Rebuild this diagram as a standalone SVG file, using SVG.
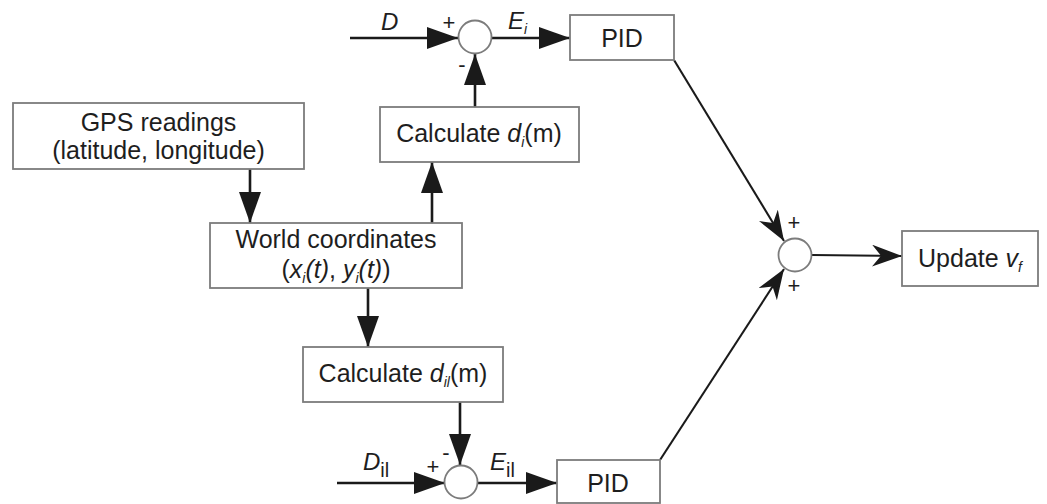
<svg xmlns="http://www.w3.org/2000/svg" width="1047" height="504" viewBox="0 0 1047 504">
<style>
text{font-family:"Liberation Sans",Arial,sans-serif;fill:#1e1e1e}
.box{fill:#fff;stroke:#7c7c7c;stroke-width:1.8}
.sum{fill:#fff;stroke:#7c7c7c;stroke-width:1.8}
.t{font-size:25px;text-anchor:middle}
.lbl{font-size:24px}
.pm{font-size:22px;text-anchor:middle}
.i{font-style:italic}
.sub{font-size:14px}
.ln{stroke:#1a1a1a;stroke-width:2.6;fill:none}
.ln2{stroke:#1a1a1a;stroke-width:2.1;fill:none}
</style>
<defs>
<marker id="tri" markerUnits="userSpaceOnUse" markerWidth="32" markerHeight="23" refX="31" refY="11" orient="auto">
<path d="M0,0 L31,11 L0,22 z" fill="#1a1a1a"/>
</marker>
<marker id="barb" markerUnits="userSpaceOnUse" markerWidth="32" markerHeight="24" refX="30" refY="11" orient="auto">
<path d="M0,0 L30,11 L0,22 L9,11 z" fill="#1a1a1a"/>
</marker>
</defs>
<rect width="1047" height="504" fill="#fff"/>

<g id="connectors">
<line class="ln" x1="350" y1="38" x2="458" y2="38" marker-end="url(#tri)"/>
<line class="ln" x1="492" y1="38" x2="570" y2="38" marker-end="url(#tri)"/>
<line class="ln" x1="475" y1="107" x2="475" y2="54" marker-end="url(#tri)"/>
<line class="ln" x1="250" y1="169" x2="250" y2="223" marker-end="url(#tri)"/>
<line class="ln" x1="432" y1="223" x2="432" y2="162" marker-end="url(#tri)"/>
<line class="ln" x1="368" y1="288" x2="368" y2="347" marker-end="url(#tri)"/>
<line class="ln" x1="460" y1="402" x2="460" y2="465" marker-end="url(#tri)"/>
<line class="ln" x1="337" y1="483" x2="445" y2="483" marker-end="url(#tri)"/>
<line class="ln" x1="478" y1="483" x2="557" y2="483" marker-end="url(#tri)"/>
<line class="ln2" x1="674" y1="60" x2="784" y2="241" marker-end="url(#barb)"/>
<line class="ln2" x1="660" y1="460" x2="784" y2="269" marker-end="url(#barb)"/>
<line class="ln2" x1="812" y1="255" x2="902" y2="256" marker-end="url(#barb)"/>
</g>

<g id="gps">
<rect class="box" x="13" y="103" width="291" height="66"/>
<text class="t" x="158.5" y="131">GPS readings</text>
<text class="t" x="158.5" y="159">(latitude, longitude)</text>
</g>

<g id="world">
<rect class="box" x="210" y="223" width="252" height="65"/>
<text class="t" x="336" y="248">World coordinates</text>
<text class="t" x="336" y="278">(<tspan class="i">x</tspan><tspan class="i sub" dy="5">i</tspan><tspan class="i" dy="-5">(t)</tspan>, <tspan class="i">y</tspan><tspan class="i sub" dy="5">i</tspan><tspan class="i" dy="-5">(t)</tspan>)</text>
</g>

<g id="calc-di">
<rect class="box" x="380" y="107" width="199" height="55"/>
<text class="t" x="479" y="142">Calculate <tspan class="i">d</tspan><tspan class="i sub" dy="5">i</tspan><tspan dy="-5">(m)</tspan></text>
</g>

<g id="calc-dil">
<rect class="box" x="303" y="347" width="200" height="55"/>
<text class="t" x="403" y="382">Calculate <tspan class="i">d</tspan><tspan class="i sub" dy="5">il</tspan><tspan dy="-5">(m)</tspan></text>
</g>

<g id="pid-top">
<rect class="box" x="570" y="15" width="104" height="45"/>
<text class="t" x="622" y="47">PID</text>
</g>

<g id="pid-bottom">
<rect class="box" x="557" y="460" width="103" height="43"/>
<text class="t" x="608" y="492">PID</text>
</g>

<g id="update">
<rect class="box" x="902" y="231" width="136" height="55"/>
<text class="t" x="970" y="267">Update <tspan class="i">v</tspan><tspan class="i sub" dy="5">f</tspan></text>
</g>

<g id="sum-top">
<circle class="sum" cx="475" cy="37" r="16.5"/>
<text class="pm" x="449" y="30">+</text>
<text class="pm" x="462" y="72">-</text>
</g>

<g id="sum-bottom">
<circle class="sum" cx="461" cy="482" r="16.5"/>
<text class="pm" x="433" y="474">+</text>
<text class="pm" x="446" y="460">-</text>
</g>

<g id="sum-right">
<circle class="sum" cx="795" cy="255" r="16.5"/>
<text class="pm" x="794" y="230">+</text>
<text class="pm" x="794" y="293">+</text>
</g>

<g id="labels">
<text class="lbl i" x="381" y="30">D</text>
<text class="lbl" x="508" y="29"><tspan class="i">E</tspan><tspan class="i sub" dy="5">i</tspan></text>
<text class="lbl" x="363" y="470"><tspan class="i">D</tspan><tspan style="font-size:20px" dy="7">il</tspan></text>
<text class="lbl" x="490" y="470"><tspan class="i">E</tspan><tspan style="font-size:20px" dy="7">il</tspan></text>
</g>
</svg>
